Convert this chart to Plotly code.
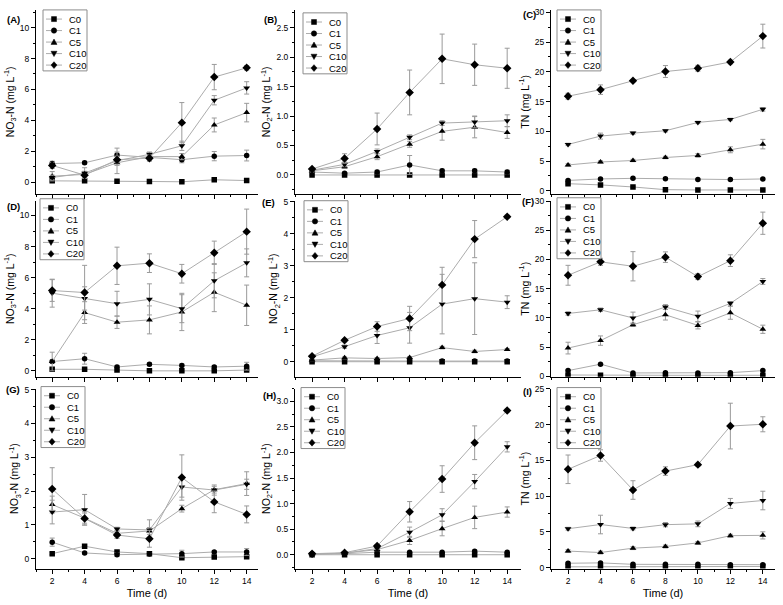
import plotly.graph_objects as go

# ---------------- data ----------------
days = [2, 4, 6, 8, 10, 12, 14]
groups = ["C0", "C1", "C5", "C10", "C20"]
x_tick_vals = [2, 4, 6, 8, 10, 12, 14]

# (A) NO3-N
A_mean = {"C0": [0.08, 0.08, 0.06, 0.04, 0.02, 0.15, 0.10],
          "C1": [1.20, 1.25, 1.75, 1.60, 1.45, 1.68, 1.72],
          "C5": [0.38, 0.50, 1.25, 1.65, 1.65, 3.70, 4.50],
          "C10": [0.30, 0.58, 1.38, 1.80, 2.35, 5.30, 6.10],
          "C20": [1.08, 0.45, 1.45, 1.55, 3.85, 6.80, 7.40]}
A_err = {"C0": [0.05, 0.05, 0.05, 0.05, 0.05, 0.05, 0.05],
         "C1": [0.15, 0.10, 0.45, 0.20, 0.20, 0.30, 0.35],
         "C5": [0.30, 0.20, 0.70, 0.20, 0.20, 0.45, 0.60],
         "C10": [0.15, 0.35, 0.30, 0.15, 0.30, 0.30, 0.40],
         "C20": [0.20, 0.10, 0.20, 0.20, 1.30, 0.82, 0.15]}
# (B) NO2-N
B_mean = {"C0": [0.0, 0.0, 0.0, 0.0, 0.0, 0.0, 0.0],
          "C1": [0.05, 0.03, 0.05, 0.17, 0.07, 0.07, 0.05],
          "C5": [0.07, 0.14, 0.31, 0.52, 0.74, 0.81, 0.72],
          "C10": [0.08, 0.18, 0.40, 0.64, 0.88, 0.90, 0.92],
          "C20": [0.10, 0.28, 0.78, 1.40, 1.97, 1.87, 1.81]}
B_err = {"C0": [0.01, 0.01, 0.01, 0.01, 0.01, 0.01, 0.01],
         "C1": [0.02, 0.02, 0.03, 0.16, 0.03, 0.03, 0.03],
         "C5": [0.02, 0.03, 0.05, 0.05, 0.15, 0.18, 0.10],
         "C10": [0.02, 0.04, 0.04, 0.04, 0.04, 0.10, 0.10],
         "C20": [0.02, 0.08, 0.27, 0.38, 0.42, 0.35, 0.34]}
# (C) TN
C_mean = {"C0": [1.20, 1.00, 0.65, 0.20, 0.15, 0.15, 0.15],
          "C1": [1.75, 2.00, 2.10, 2.05, 1.90, 1.90, 2.00],
          "C5": [4.35, 4.85, 5.10, 5.60, 5.95, 6.90, 7.85],
          "C10": [7.80, 9.20, 9.70, 10.10, 11.50, 12.00, 13.70],
          "C20": [15.90, 17.00, 18.50, 20.05, 20.60, 21.65, 26.00]}
C_err = {"C0": [0.1, 0.1, 0.1, 0.1, 0.1, 0.1, 0.1],
         "C1": [0.1, 0.1, 0.1, 0.1, 0.1, 0.1, 0.1],
         "C5": [0.2, 0.2, 0.2, 0.2, 0.3, 0.5, 0.8],
         "C10": [0.2, 0.5, 0.2, 0.2, 0.2, 0.2, 0.3],
         "C20": [0.5, 0.8, 0.2, 1.0, 0.5, 0.3, 2.0]}
# (D) NO3-N
D_mean = {"C0": [0.10, 0.10, 0.05, 0.00, 0.00, 0.00, 0.05],
          "C1": [0.60, 0.78, 0.25, 0.42, 0.35, 0.25, 0.30],
          "C5": [0.60, 3.75, 3.13, 3.28, 3.79, 5.06, 4.22],
          "C10": [5.00, 4.66, 4.32, 4.60, 4.00, 5.80, 6.95],
          "C20": [5.17, 5.04, 6.76, 6.93, 6.25, 7.60, 8.96]}
D_err = {"C0": [0.05, 0.05, 0.05, 0.05, 0.05, 0.05, 0.05],
         "C1": [0.10, 0.35, 0.10, 0.10, 0.10, 0.10, 0.25],
         "C5": [0.60, 0.70, 0.40, 0.90, 1.20, 1.25, 1.30],
         "C10": [0.90, 0.75, 0.80, 1.00, 0.90, 1.10, 0.90],
         "C20": [0.70, 1.75, 1.20, 0.60, 0.60, 0.75, 1.45]}
# (E) NO2-N
E_mean = {"C0": [0.0, 0.0, 0.0, 0.0, 0.0, 0.0, 0.0],
          "C1": [0.03, 0.02, 0.02, 0.02, 0.02, 0.02, 0.02],
          "C5": [0.05, 0.12, 0.10, 0.13, 0.44, 0.32, 0.38],
          "C10": [0.15, 0.47, 0.82, 1.06, 1.80, 1.97, 1.86],
          "C20": [0.17, 0.67, 1.10, 1.35, 2.40, 3.83, 4.53]}
E_err = {"C0": [0.01, 0.01, 0.01, 0.01, 0.01, 0.01, 0.01],
         "C1": [0.01, 0.01, 0.01, 0.01, 0.01, 0.01, 0.01],
         "C5": [0.02, 0.03, 0.03, 0.03, 0.04, 0.04, 0.03],
         "C10": [0.03, 0.05, 0.25, 0.48, 0.93, 1.12, 0.20],
         "C20": [0.03, 0.05, 0.15, 0.38, 0.55, 0.58, 0.05]}
# (F) TN
F_mean = {"C0": [0.25, 0.20, 0.20, 0.20, 0.20, 0.20, 0.20],
          "C1": [1.00, 2.10, 0.60, 0.65, 0.60, 0.65, 1.00],
          "C5": [4.85, 6.13, 8.84, 10.55, 8.73, 10.88, 8.07],
          "C10": [10.77, 11.40, 10.00, 11.88, 10.28, 12.50, 16.24],
          "C20": [17.30, 19.60, 18.84, 20.40, 17.07, 19.80, 26.20]}
F_err = {"C0": [0.1, 0.1, 0.1, 0.1, 0.1, 0.1, 0.1],
         "C1": [0.1, 0.1, 0.1, 0.1, 0.1, 0.1, 0.1],
         "C5": [1.0, 0.8, 0.3, 0.9, 0.6, 1.1, 0.7],
         "C10": [0.3, 0.3, 1.0, 0.4, 0.9, 0.3, 0.5],
         "C20": [1.7, 0.6, 2.5, 0.9, 0.5, 1.0, 1.9]}
# (G) NO3-N
G_mean = {"C0": [0.15, 0.37, 0.20, 0.15, 0.03, 0.05, 0.06],
          "C1": [0.49, 0.17, 0.12, 0.14, 0.15, 0.20, 0.20],
          "C5": [1.60, 1.20, 0.75, 0.82, 1.48, 2.04, 2.22],
          "C10": [1.38, 1.45, 0.88, 0.85, 2.12, 2.03, 2.20],
          "C20": [2.06, 1.19, 0.70, 0.59, 2.40, 1.68, 1.31]}
G_err = {"C0": [0.03, 0.03, 0.03, 0.03, 0.03, 0.03, 0.03],
         "C1": [0.12, 0.03, 0.05, 0.03, 0.10, 0.03, 0.10],
         "C5": [0.25, 0.15, 0.10, 0.10, 0.10, 0.10, 0.35],
         "C10": [0.35, 0.45, 0.05, 0.30, 0.30, 0.15, 0.15],
         "C20": [0.63, 0.20, 0.10, 0.25, 0.67, 0.32, 0.25]}
# (H) NO2-N
H_mean = {"C0": [0.0, 0.0, 0.0, 0.0, 0.0, 0.0, 0.0],
          "C1": [0.02, 0.02, 0.05, 0.05, 0.05, 0.07, 0.05],
          "C5": [0.01, 0.03, 0.10, 0.28, 0.51, 0.73, 0.835],
          "C10": [0.01, 0.03, 0.12, 0.44, 0.78, 1.43, 2.11],
          "C20": [0.02, 0.04, 0.17, 0.84, 1.48, 2.19, 2.82]}
H_err = {"C0": [0.01, 0.01, 0.01, 0.01, 0.01, 0.01, 0.01],
         "C1": [0.01, 0.01, 0.01, 0.01, 0.01, 0.02, 0.01],
         "C5": [0.01, 0.01, 0.02, 0.08, 0.14, 0.22, 0.10],
         "C10": [0.01, 0.01, 0.02, 0.10, 0.12, 0.14, 0.10],
         "C20": [0.01, 0.01, 0.03, 0.20, 0.26, 0.33, 0.03]}
# (I) TN
I_mean = {"C0": [0.10, 0.10, 0.10, 0.10, 0.10, 0.15, 0.15],
          "C1": [0.60, 0.65, 0.45, 0.45, 0.45, 0.40, 0.40],
          "C5": [2.30, 2.10, 2.71, 2.94, 3.45, 4.46, 4.50],
          "C10": [5.43, 6.02, 5.47, 6.00, 6.11, 8.97, 9.38],
          "C20": [13.75, 15.68, 10.85, 13.50, 14.40, 19.80, 20.05]}
I_err = {"C0": [0.1, 0.1, 0.1, 0.1, 0.1, 0.1, 0.1],
         "C1": [0.1, 0.1, 0.1, 0.1, 0.1, 0.1, 0.1],
         "C5": [0.2, 0.2, 0.2, 0.2, 0.2, 0.2, 0.5],
         "C10": [0.2, 1.3, 0.2, 0.3, 0.4, 0.7, 1.3],
         "C20": [2.0, 0.8, 1.3, 0.6, 0.2, 3.2, 1.05]}

panel_labels = ["(A)", "(B)", "(C)", "(D)", "(E)", "(F)", "(G)", "(H)", "(I)"]
NO3 = "NO<sub>3</sub>-N (mg L<sup>-1</sup>)"
NO2 = "NO<sub>2</sub>-N (mg L<sup>-1</sup>)"
TN = "TN (mg L<sup>-1</sup>)"
y_titles = [NO3, NO2, TN, NO3, NO2, TN, NO3, NO2, TN]
x_title = "Time (d)"
means = [A_mean, B_mean, C_mean, D_mean, E_mean, F_mean, G_mean, H_mean, I_mean]
errs = [A_err, B_err, C_err, D_err, E_err, F_err, G_err, H_err, I_err]

# ---------------- layout / style ----------------
W, H = 783, 605
FONT = "Liberation Sans, Arial, sans-serif"
symbols = ["square", "circle", "triangle-up", "triangle-down", "diamond"]
msizes = [5.5, 5.5, 6, 6, 6.5]
LINE_C = "#acacac"
ERR_C = "#9a9a9a"

cols_px = [(36, 258), (295, 521), (551, 775)]
rows_px = [(5, 192), (199, 378), (390, 573)]
x_ranges = [[1.0, 14.7], [0.95, 14.85], [0.95, 14.75]]
y_ranges = [[-0.76, 11.15], [-0.32, 2.8], [-0.5, 30.4],
            [-0.38, 10.95], [-0.47, 5.03], [-0.05, 30.05],
            [-0.29, 5.03], [-0.27, 3.25], [-0.14, 25.05]]
y_dticks = [2, 0.5, 5, 2, 1, 5, 1, 0.5, 5]
y_tickfmt = ["d", ".1f", "d", "d", "d", "d", "d", ".1f", "d"]
legend_px = [(43, 5), (303, 8), (557, 5), (40, 197), (304, 199), (557, 196),
             (41, 388), (301, 389), (557, 389)]
label_px = [(13, 15), (270, 15), (529, 10), (13, 205), (268, 201), (528, 200),
            (13, 391), (269, 397), (527, 393)]


def px(x):
    return x / W


def py(y):
    return 1 - y / H


fig = go.Figure()
shapes = []
annotations = []
layout_axes = {}

for i in range(9):
    r, c = divmod(i, 3)
    ax = "" if i == 0 else str(i + 1)
    for k, g in enumerate(groups):
        fig.add_trace(go.Scatter(
            x=days, y=means[i][g], name=g, showlegend=False,
            xaxis="x" + ax, yaxis="y" + ax, mode="lines+markers",
            line=dict(color=LINE_C, width=1),
            marker=dict(symbol=symbols[k], size=msizes[k], color="black"),
            error_y=dict(type="data", array=errs[i][g], color=ERR_C, thickness=1, width=2.5),
        ))
    x0, x1 = cols_px[c]
    y0, y1 = rows_px[r]
    xa = dict(
        domain=[px(x0), px(x1)], range=x_ranges[c], anchor="y" + ax,
        tickvals=x_tick_vals, showticklabels=(r == 2),
        ticks="outside", ticklen=4, tickcolor="black", tickwidth=1,
        minor=dict(ticks="outside", ticklen=2, dtick=1, tick0=0, tickcolor="black"),
        showline=True, linecolor="black", linewidth=1, showgrid=False, zeroline=False,
        tickfont=dict(family=FONT, size=8.5, color="black"),
    )
    if r == 2:
        xa["title"] = dict(text=x_title, font=dict(family=FONT, size=11, color="black"), standoff=4)
    layout_axes["xaxis" + ax] = xa
    layout_axes["yaxis" + ax] = dict(
        domain=[py(y1), py(y0)], range=y_ranges[i], anchor="x" + ax,
        dtick=y_dticks[i], tick0=0, tickformat=y_tickfmt[i],
        ticks="outside", ticklen=4, tickcolor="black", tickwidth=1,
        minor=dict(ticks="outside", ticklen=2, dtick=y_dticks[i] / 2, tickcolor="black"),
        showline=True, linecolor="black", linewidth=1, showgrid=False, zeroline=False,
        tickfont=dict(family=FONT, size=8.5, color="black"),
        title=dict(text=y_titles[i], font=dict(family=FONT, size=10.5, color="black"), standoff=3),
    )
    # panel label
    lx, ly = label_px[i]
    annotations.append(dict(x=px(lx), y=py(ly), xref="paper", yref="paper", showarrow=False,
                            text="<b>" + panel_labels[i] + "</b>", xanchor="center", yanchor="middle",
                            font=dict(family=FONT, size=9.5, color="black")))
    # legend box
    bx, by = legend_px[i]
    shapes.append(dict(type="rect", xref="paper", yref="paper", x0=px(bx), x1=px(bx + 44),
                       y0=py(by), y1=py(by + 62), line=dict(color="#8c8c8c", width=1),
                       fillcolor="white", layer="above"))
    for k, g in enumerate(groups):
        ey = by + 9.3 + k * 11.7
        shapes.append(dict(type="line", xref="paper", yref="paper", x0=px(bx + 3), x1=px(bx + 19),
                           y0=py(ey), y1=py(ey), line=dict(color=LINE_C, width=1), layer="above"))
        mx, my = px(bx + 11), py(ey)
        common = dict(xref="paper", yref="paper", xsizemode="pixel", ysizemode="pixel",
                      xanchor=mx, yanchor=my, fillcolor="black", line=dict(color="black", width=0.5),
                      layer="above")
        if k == 0:
            shapes.append(dict(type="rect", x0=-2.5, x1=2.5, y0=-2.5, y1=2.5, **common))
        elif k == 1:
            shapes.append(dict(type="circle", x0=-2.7, x1=2.7, y0=-2.7, y1=2.7, **common))
        elif k == 2:
            shapes.append(dict(type="path", path="M-3,-2.3 L3,-2.3 L0,3 Z", **common))
        elif k == 3:
            shapes.append(dict(type="path", path="M-3,2.3 L3,2.3 L0,-3 Z", **common))
        else:
            shapes.append(dict(type="path", path="M0,3.4 L3,0 L0,-3.4 L-3,0 Z", **common))
        annotations.append(dict(x=px(bx + 24), y=py(ey), xref="paper", yref="paper", showarrow=False,
                                text=g, xanchor="left", yanchor="middle",
                                font=dict(family=FONT, size=9.5, color="black")))

fig.update_layout(
    width=W, height=H, margin=dict(l=0, r=0, t=0, b=0),
    paper_bgcolor="white", plot_bgcolor="white",
    showlegend=False, shapes=shapes, annotations=annotations,
    font=dict(family=FONT, color="black"),
    **layout_axes,
)

fig.write_html("out.html")
